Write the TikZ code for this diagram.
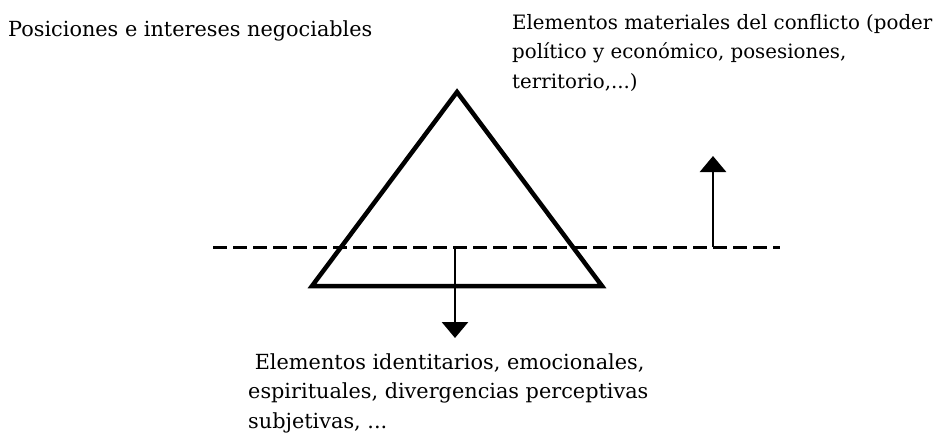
\documentclass[tikz,border=0pt]{standalone}
\usepackage{fontspec}
\setmainfont{DejaVu Serif}
\usetikzlibrary{arrows.meta}
\begin{document}
\begin{tikzpicture}[x=1pt,y=-1pt,
  lbl/.style={anchor=base west,inner sep=0pt,align=left,font=\fontsize{20.8}{29.5}\selectfont},
  lblr/.style={lbl,font=\fontsize{19.8}{29.5}\selectfont},
  tri/.style={line width=4.5pt,line join=miter},
  sep/.style={line width=3pt,dash pattern=on 14pt off 6pt},
  arr/.style={line width=2.8pt,-{Triangle[width=26pt,length=16pt]}}]
\useasboundingbox (0,0) rectangle (942,432);
\coordinate (A) at (457,92);
\coordinate (B) at (312,286);
\coordinate (C) at (602,286);
\draw[tri] (B) -- (A) -- (C) -- cycle;
\coordinate (L) at (213,247);
\coordinate (R) at (780,247);
\draw[sep] (L) -- (R);
\coordinate (u0) at (713,247);
\coordinate (u1) at (713,156);
\draw[arr] (u0) -- (u1);
\coordinate (d0) at (455,247);
\coordinate (d1) at (455,338);
\draw[arr] (d0) -- (d1);
\node[lbl] (pos) at (8,36) {Posiciones e intereses negociables};
\node[lblr] (mat) at (512,88) {Elementos materiales del conflicto (poder\\político y económico, posesiones,\\territorio,...)};
\node[lbl] (ide) at (248,428) {\ Elementos identitarios, emocionales,\\espirituales, divergencias perceptivas\\subjetivas, ...};
\end{tikzpicture}
\end{document}
